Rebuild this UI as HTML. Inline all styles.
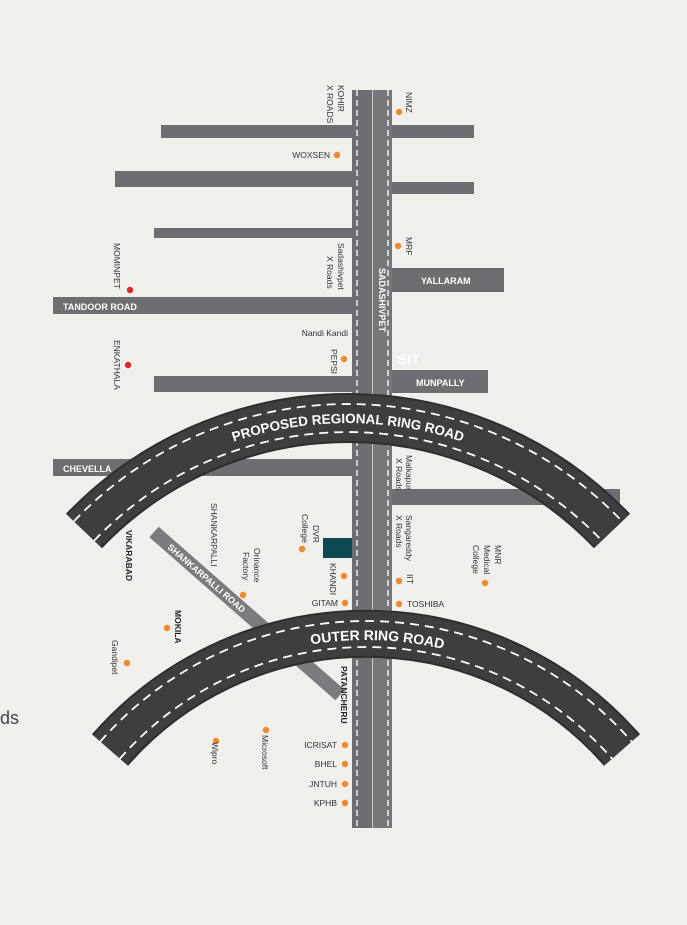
<!DOCTYPE html>
<html><head><meta charset="utf-8"><style>
html,body{margin:0;padding:0;background:#f0efec;}
svg{display:block;}
text{font-family:"Liberation Sans",sans-serif;}
</style></head><body>
<svg width="687" height="925" viewBox="0 0 687 925" xmlns="http://www.w3.org/2000/svg">
<rect width="687" height="925" fill="#f0efec"/>
<g fill="#6d6e71">
<rect x="161" y="125" width="313" height="13"/>
<rect x="115" y="171" width="240" height="16"/>
<rect x="390" y="182" width="84" height="12"/>
<rect x="154" y="228" width="200" height="10"/>
<rect x="390" y="268" width="114" height="24"/>
<rect x="53" y="297" width="300" height="17"/>
<rect x="154" y="376" width="200" height="16"/>
<rect x="390" y="370" width="98" height="23"/>
<rect x="53" y="459" width="300" height="17"/>
<rect x="390" y="489" width="230" height="16"/>
</g>
<rect x="352" y="90" width="40" height="738" fill="#c9c9c9"/>
<rect x="352" y="90" width="20" height="738" fill="#6d6e71"/>
<rect x="373" y="90" width="19" height="738" fill="#76777a"/>
<line x1="357" y1="90" x2="357" y2="828" stroke="#fff" stroke-width="1.3" stroke-dasharray="6 4"/>
<line x1="388" y1="90" x2="388" y2="828" stroke="#fff" stroke-width="1.3" stroke-dasharray="6 4"/>
<rect x="323" y="538" width="29" height="20" fill="#0b4a52"/>
<line x1="154" y1="532" x2="340" y2="695" stroke="#7b7c7f" stroke-width="14"/>
<!-- regional ring -->
<path d="M84 531 A365 365 0 0 1 612 531" fill="none" stroke="#2e2e30" stroke-width="50"/>
<path d="M84 531 A365 365 0 0 1 612 531" fill="none" stroke="#3e3e40" stroke-width="46"/>
<path d="M73.9 521.3 A379 379 0 0 1 622.1 521.3" fill="none" stroke="#fff" stroke-width="1.8" stroke-dasharray="9 6"/>
<path d="M94.1 540.7 A351 351 0 0 1 601.9 540.7" fill="none" stroke="#fff" stroke-width="1.8" stroke-dasharray="9 6"/>
<path id="rt" d="M87.6 534.5 A360 360 0 0 1 608.4 534.5" fill="none"/>
<text font-size="13.5" font-weight="bold" fill="#fff" text-anchor="middle"><textPath href="#rt" startOffset="50%">PROPOSED REGIONAL RING ROAD</textPath></text>
<!-- outer ring -->
<path d="M110 750 A340 340 0 0 1 622 750" fill="none" stroke="#2e2e30" stroke-width="48"/>
<path d="M110 750 A340 340 0 0 1 622 750" fill="none" stroke="#3e3e40" stroke-width="44"/>
<path d="M100.2 741.7 A353 353 0 0 1 631.8 741.7" fill="none" stroke="#fff" stroke-width="1.8" stroke-dasharray="9 6"/>
<path d="M119.8 758.8 A327 327 0 0 1 612.2 758.8" fill="none" stroke="#fff" stroke-width="1.8" stroke-dasharray="9 6"/>
<path id="ot" d="M114.5 754.2 A334 334 0 0 1 617.5 754.2" fill="none"/>
<text font-size="14" font-weight="bold" fill="#fff" text-anchor="middle"><textPath href="#ot" startOffset="52%">OUTER RING ROAD</textPath></text>
<!-- road labels -->
<g font-size="9" font-weight="bold" fill="#fff">
<text x="421" y="284">YALLARAM</text>
<text x="63" y="310">TANDOOR ROAD</text>
<text x="416" y="386">MUNPALLY</text>
<text x="63" y="472">CHEVELLA</text>
<text transform="translate(379,268) rotate(90)">SADASHIVPET</text>
<text transform="translate(167,548) rotate(41)">SHANKARPALLI ROAD</text>
</g>
<text x="398" y="364" font-size="14" font-weight="bold" fill="#fff">SIT</text>
<!-- dots -->
<g fill="#f08a2c">
<circle cx="399" cy="112" r="3.2"/><circle cx="337" cy="155" r="3.2"/><circle cx="398" cy="246" r="3.2"/>
<circle cx="344" cy="359" r="3.2"/><circle cx="485" cy="583" r="3.2"/><circle cx="399" cy="581" r="3.2"/>
<circle cx="399" cy="604" r="3.2"/><circle cx="345" cy="603" r="3.2"/><circle cx="344" cy="576" r="3.2"/>
<circle cx="302" cy="549" r="3.2"/><circle cx="243" cy="595" r="3.2"/><circle cx="167" cy="628" r="3.2"/>
<circle cx="127" cy="663" r="3.2"/><circle cx="216" cy="741" r="3.2"/><circle cx="266" cy="730" r="3.2"/>
<circle cx="345" cy="745" r="3.2"/><circle cx="345" cy="764" r="3.2"/><circle cx="345" cy="784" r="3.2"/><circle cx="345" cy="803" r="3.2"/>
</g>
<g fill="#e0262c"><circle cx="130" cy="290" r="3.2"/><circle cx="128" cy="365" r="3.2"/></g>
<!-- dark labels -->
<g font-size="8.5" fill="#333">
<text x="330" y="158" text-anchor="end">WOXSEN</text>
<text x="348" y="336" text-anchor="end">Nandi Kandi</text>
<text x="338" y="606" text-anchor="end">GITAM</text>
<text x="407" y="607">TOSHIBA</text>
<text x="337" y="748" text-anchor="end">ICRISAT</text>
<text x="337" y="767" text-anchor="end">BHEL</text>
<text x="337" y="787" text-anchor="end">JNTUH</text>
<text x="337" y="806" text-anchor="end">KPHB</text>
<text transform="translate(338,85) rotate(90)">KOHIR</text>
<text transform="translate(327,85) rotate(90)">X ROADS</text>
<text transform="translate(406,92) rotate(90)">NIMZ</text>
<text transform="translate(406,237) rotate(90)">MRF</text>
<text transform="translate(338,243) rotate(90)">Sadashivpet</text>
<text transform="translate(327,256) rotate(90)">X Roads</text>
<text transform="translate(114,243) rotate(90)">MOMINPET</text>
<text transform="translate(331,349) rotate(90)">PEPSI</text>
<text transform="translate(114,340) rotate(90)">ENKATHALA</text>
<text transform="translate(406,455) rotate(90)">Malkapur</text>
<text transform="translate(396,458) rotate(90)">X Roads</text>
<text transform="translate(406,515) rotate(90)">Sangareddy</text>
<text transform="translate(396,515) rotate(90)">X Roads</text>
<text transform="translate(495,545) rotate(90)">MNR</text>
<text transform="translate(484,545) rotate(90)">Medical</text>
<text transform="translate(473,545) rotate(90)">College</text>
<text transform="translate(407,574) rotate(90)">IIT</text>
<text transform="translate(330,563) rotate(90)">KHANDI</text>
<text transform="translate(313,525) rotate(90)">DVR</text>
<text transform="translate(302,514) rotate(90)">College</text>
<text transform="translate(254,548) rotate(90)">Orinance</text>
<text transform="translate(243,552) rotate(90)">Factory</text>
<text transform="translate(211,503) rotate(90)">SHANKARPALLI</text>
<text transform="translate(112,640) rotate(90)">Gandipet</text>
<text transform="translate(212,742) rotate(90)">Wipro</text>
<text transform="translate(262,735) rotate(90)">Microsoft</text>
</g>
<g font-size="8.5" font-weight="bold" fill="#222">
<text transform="translate(126,530) rotate(90)">VIKARABAD</text>
<text transform="translate(175,610) rotate(90)">MOKILA</text>
<text transform="translate(341,666) rotate(90)">PATANCHERU</text>
</g>
<text x="0" y="724" font-size="18" fill="#444">ds</text>
</svg>
</body></html>
